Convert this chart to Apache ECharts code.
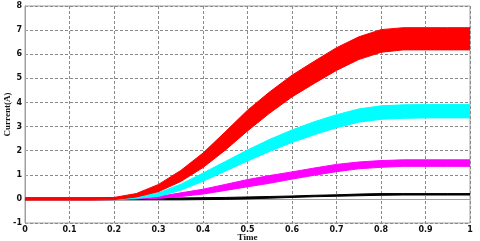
<!DOCTYPE html>
<html>
<head>
<meta charset="utf-8">
<script src="https://cdn.jsdelivr.net/npm/echarts@6/dist/echarts.min.js"></script>
<style>
html,body{margin:0;padding:0;background:#fff;}
#chart{width:480px;height:241px;}
</style>
</head>
<body>
<div id="chart"></div>
<script>
// Time samples
var time = [0, 0.05, 0.1, 0.15, 0.2, 0.25, 0.3, 0.35, 0.4, 0.45, 0.5, 0.55, 0.6, 0.65, 0.7, 0.75, 0.8, 0.85, 0.9, 0.95, 1.0];
// Envelopes (lower / upper) of each ripple band
var redLow   = [-0.05,-0.05,-0.05,-0.05,-0.03, 0.08, 0.30, 0.72, 1.30, 2.02, 2.82, 3.56, 4.23, 4.79, 5.33, 5.78, 6.08, 6.18, 6.18, 6.18, 6.18];
var redHigh  = [ 0.05, 0.05, 0.05, 0.05, 0.06, 0.22, 0.60, 1.18, 1.90, 2.78, 3.68, 4.44, 5.13, 5.71, 6.27, 6.72, 7.02, 7.10, 7.10, 7.10, 7.10];
var cyanLow  = [-0.03,-0.03,-0.03,-0.03,-0.03, 0.02, 0.10, 0.36, 0.73, 1.15, 1.57, 1.97, 2.34, 2.66, 2.95, 3.18, 3.30, 3.34, 3.36, 3.36, 3.36];
var cyanHigh = [ 0.03, 0.03, 0.03, 0.03, 0.03, 0.08, 0.25, 0.61, 1.07, 1.55, 2.03, 2.47, 2.86, 3.20, 3.49, 3.73, 3.86, 3.90, 3.91, 3.91, 3.91];
var magLow   = [-0.03,-0.03,-0.03,-0.03,-0.03, 0.00, 0.02, 0.10, 0.20, 0.35, 0.50, 0.65, 0.82, 0.98, 1.13, 1.25, 1.31, 1.35, 1.35, 1.35, 1.35];
var magHigh  = [ 0.03, 0.03, 0.03, 0.03, 0.03, 0.03, 0.10, 0.25, 0.40, 0.60, 0.80, 0.97, 1.12, 1.28, 1.43, 1.53, 1.59, 1.62, 1.62, 1.62, 1.62];
var blkLow   = [-0.04,-0.04,-0.04,-0.04,-0.04,-0.04,-0.04,-0.04,-0.03,-0.02, 0.00, 0.03, 0.06, 0.09, 0.11, 0.13, 0.15, 0.16, 0.16, 0.16, 0.16];
var blkHigh  = [ 0.04, 0.04, 0.04, 0.04, 0.04, 0.04, 0.04, 0.04, 0.05, 0.06, 0.08, 0.10, 0.12, 0.15, 0.17, 0.20, 0.22, 0.22, 0.22, 0.22, 0.22];
var xTicks = ['0','0.1','0.2','0.3','0.4','0.5','0.6','0.7','0.8','0.9','1'];
var yTicks = ['-1','0','1','2','3','4','5','6','7','8'];

var bands = [
  {name:'black', color:'#000000', low:blkLow, high:blkHigh},
  {name:'magenta', color:'#ff00ff', low:magLow, high:magHigh},
  {name:'cyan', color:'#00ffff', low:cyanLow, high:cyanHigh},
  {name:'red', color:'#ff0000', low:redLow, high:redHigh}
];

var series = bands.map(function(b){
  return {
    type:'custom', name:b.name, silent:true, clip:true,
    encode:{x:0, y:[1,2]},
    data: time.map(function(t,i){return [t, b.low[i], b.high[i]];}),
    renderItem:function(params, api){
      if (params.dataIndex !== 0) return null;
      var up = [], lo = [];
      for (var i=0;i<time.length;i++) { up.push(api.coord([time[i], b.high[i]])); lo.push(api.coord([time[i], b.low[i]])); }
      lo.reverse();
      return {type:'group', children:[
        {type:'polygon', shape:{points:up.concat(lo), smooth:0}, style:{fill:b.color, stroke:b.color, lineWidth:1}}
      ]};
    }
  };
});

var gridLine = {show:true, lineStyle:{color:'#8a8a8a', width:1, type:[3,2]}};
var labelFont = {fontFamily:'DejaVu Sans', fontWeight:'bold', fontSize:8, color:'#111'};

var chart = echarts.init(document.getElementById('chart'), null, {renderer:'canvas'});
chart.setOption({
  animation:false,
  backgroundColor:'#ffffff',
  grid:{left:25, right:10, top:6, bottom:18, containLabel:false, outerBoundsMode:'none', show:true, borderColor:'#a0a0a0', borderWidth:1},
  xAxis:{
    type:'value', min:0, max:1, interval:0.1,
    name:'Time', nameLocation:'middle', nameGap:10, nameMoveOverlap:false,
    nameTextStyle:{fontFamily:'Liberation Serif', fontWeight:'bold', fontSize:9, color:'#111', verticalAlign:'top'},
    axisLine:{show:true, lineStyle:{color:'#a0a0a0'}},
    axisTick:{show:true, inside:true, length:3, lineStyle:{color:'#a0a0a0'}},
    axisLabel:Object.assign({margin:3, formatter:function(v){var k=Math.round(v*10);return xTicks[k];}}, labelFont),
    splitLine:gridLine
  },
  yAxis:{
    type:'value', min:-1, max:8, interval:1,
    name:'Current(A)', nameLocation:'middle', nameGap:13, nameRotate:90, nameMoveOverlap:false,
    nameTextStyle:{fontFamily:'Liberation Serif', fontWeight:'bold', fontSize:9, color:'#111'},
    axisLine:{show:true, lineStyle:{color:'#a0a0a0'}},
    axisTick:{show:true, inside:true, length:3, lineStyle:{color:'#a0a0a0'}},
    axisLabel:Object.assign({margin:3, formatter:function(v){return yTicks[Math.round(v)+1];}}, labelFont),
    splitLine:gridLine
  },
  series:series
});
</script>
</body>
</html>
